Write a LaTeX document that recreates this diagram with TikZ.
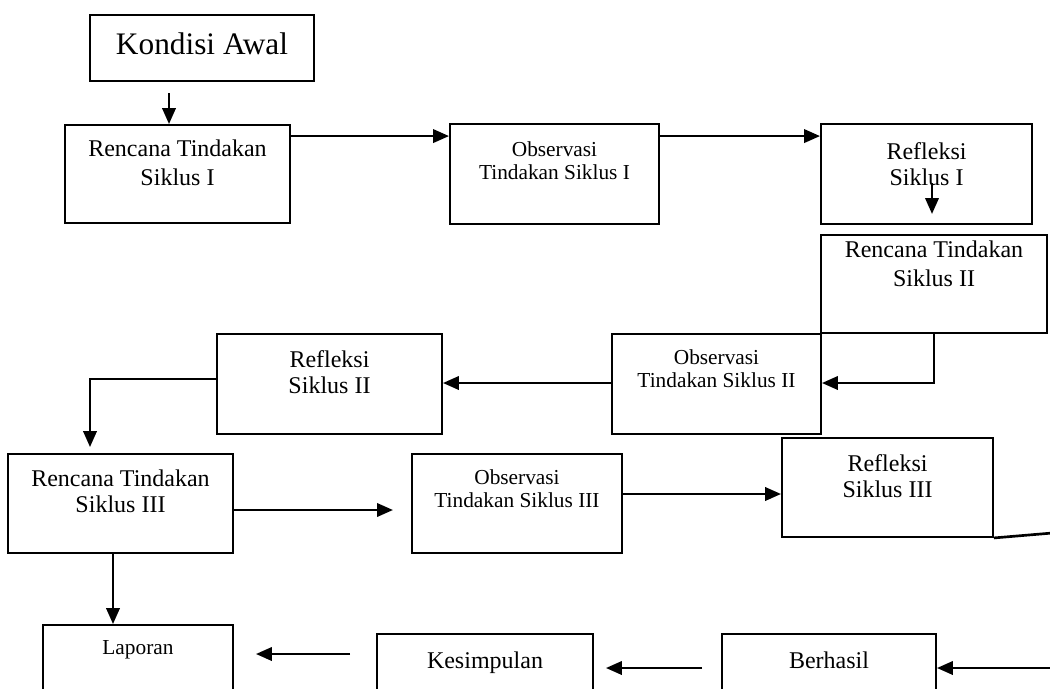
\documentclass[tikz,border=0pt]{standalone}
\usepackage{fontspec}
\setmainfont{Liberation Serif}
\usetikzlibrary{arrows.meta}
\tikzset{
  box/.style={draw=black, line width=1.4pt, inner sep=0pt, fill=white},
  lbl/.style={anchor=north, inner sep=0pt, align=center, label distance=0pt},
  fbig/.style={font=\fontsize{18}{21.75}\selectfont},
  frefl/.style={font=\fontsize{18}{19.5}\selectfont},
  fsmall/.style={font=\fontsize{16}{17}\selectfont},
  arr/.style={line width=2pt, -{Triangle[length=12pt,width=10pt]}},
  plain/.style={line width=2pt}
}
\begin{document}
\begin{tikzpicture}[x=0.75pt,y=-0.75pt]
\useasboundingbox (0,0) rectangle (1050,689);
\fill[white] (0,0) rectangle (1050,689);
\clip (0,0) rectangle (1050,689);

% boxes
\node[box, minimum width=168pt, minimum height=49.5pt,
  label={[lbl, yshift=-14pt, font=\fontsize{23.5}{26}\selectfont]90:Kondisi Awal}] (ka) at (202,48) {};
\node[box, minimum width=168.75pt, minimum height=73.5pt,
  label={[lbl, fbig, yshift=-11.7pt]90:Rencana Tindakan\\Siklus I}] (rt1) at (177.5,174) {};
\node[box, minimum width=156.75pt, minimum height=75pt,
  label={[lbl, fsmall, yshift=-13.7pt]90:Observasi\\Tindakan Siklus I}] (ob1) at (554.5,174) {};
\node[box, minimum width=158.25pt, minimum height=75pt,
  label={[lbl, frefl, yshift=-14.7pt]90:Refleksi\\Siklus I}] (rf1) at (926.5,174) {};
\node[box, minimum width=169.5pt, minimum height=73.5pt,
  label={[lbl, fbig, yshift=-5pt]90:Rencana Tindakan\\Siklus II}] (rt2) at (934,284) {};
\node[box, minimum width=156.75pt, minimum height=75pt,
  label={[lbl, fsmall, yshift=-12.2pt]90:Observasi\\Tindakan Siklus II}] (ob2) at (716.5,384) {};
\node[box, minimum width=168.75pt, minimum height=75pt,
  label={[lbl, frefl, yshift=-13.2pt]90:Refleksi\\Siklus II}] (rf2) at (329.5,384) {};
\node[box, minimum width=168.75pt, minimum height=74.25pt,
  label={[lbl, frefl, yshift=-12.5pt]90:Rencana Tindakan\\Siklus III}] (rt3) at (120.5,503.5) {};
\node[box, minimum width=157.5pt, minimum height=74.25pt,
  label={[lbl, fsmall, yshift=-12.2pt]90:Observasi\\Tindakan Siklus III}] (ob3) at (517,503.5) {};
\node[box, minimum width=158.25pt, minimum height=74.25pt,
  label={[lbl, frefl, yshift=-13.2pt]90:Refleksi\\Siklus III}] (rf3) at (887.5,487.5) {};
\node[box, minimum width=142.5pt, minimum height=75pt,
  label={[lbl, fsmall, yshift=-11.9pt]90:Laporan}] (lap) at (138,675) {};
\node[box, minimum width=162pt, minimum height=75pt,
  label={[lbl, fbig, yshift=-14pt]90:Kesimpulan}] (kes) at (485,684) {};
\node[box, minimum width=160.5pt, minimum height=75pt,
  label={[lbl, fbig, yshift=-14pt]90:Berhasil}] (ber) at (829,684) {};

% helper coordinates
\coordinate (p1) at (169,93);
\coordinate (p2) at ([yshift=-9pt]rt1.north east);
\coordinate (p3) at ([yshift=-9.75pt]ob1.north east);
\coordinate (p4a) at (932,183);
\coordinate (p4b) at (932,214);
\coordinate (p5) at (934,383);
\coordinate (p7) at (90,379);
\coordinate (p8) at (393,510);
\coordinate (p9) at (700,494);
\coordinate (p10) at (1062,532.2);
\coordinate (p11) at (1062,668);
\coordinate (p12) at (702,668);
\coordinate (p13) at (350,654);
\coordinate (p14) at (113,600);

% connectors
\draw[arr] (p1) -- (p1 |- rt1.north);
\draw[arr] (p2) -- (p2 -| ob1.west);
\draw[arr] (p3) -- (p3 -| rf1.west);
\draw[arr] (p4a) -- (p4b);
\draw[arr] (p5 |- rt2.south) -- (p5) -- (p5 -| ob2.east);
\draw[arr] (ob2.west |- p5) -- (rf2.east |- p5);
\draw[arr, shorten >=4.5pt] (rf2.west |- p7) -- (p7) -- (p7 |- rt3.north);
\draw[arr] (rt3.east |- p8) -- (p8);
\draw[arr] (ob3.east |- p9) -- (rf3.west |- p9);
\draw[plain] (rf3.south east) -- (p10);
\draw[arr] (p11) -- (p11 -| ber.east);
\draw[arr, shorten >=9pt] (p12) -- (p12 -| kes.east);
\draw[arr, shorten >=16.5pt] (p13) -- (p13 -| lap.east);
\draw[arr] (rt3.south -| p14) -- (p14 |- lap.north);
\end{tikzpicture}
\end{document}
